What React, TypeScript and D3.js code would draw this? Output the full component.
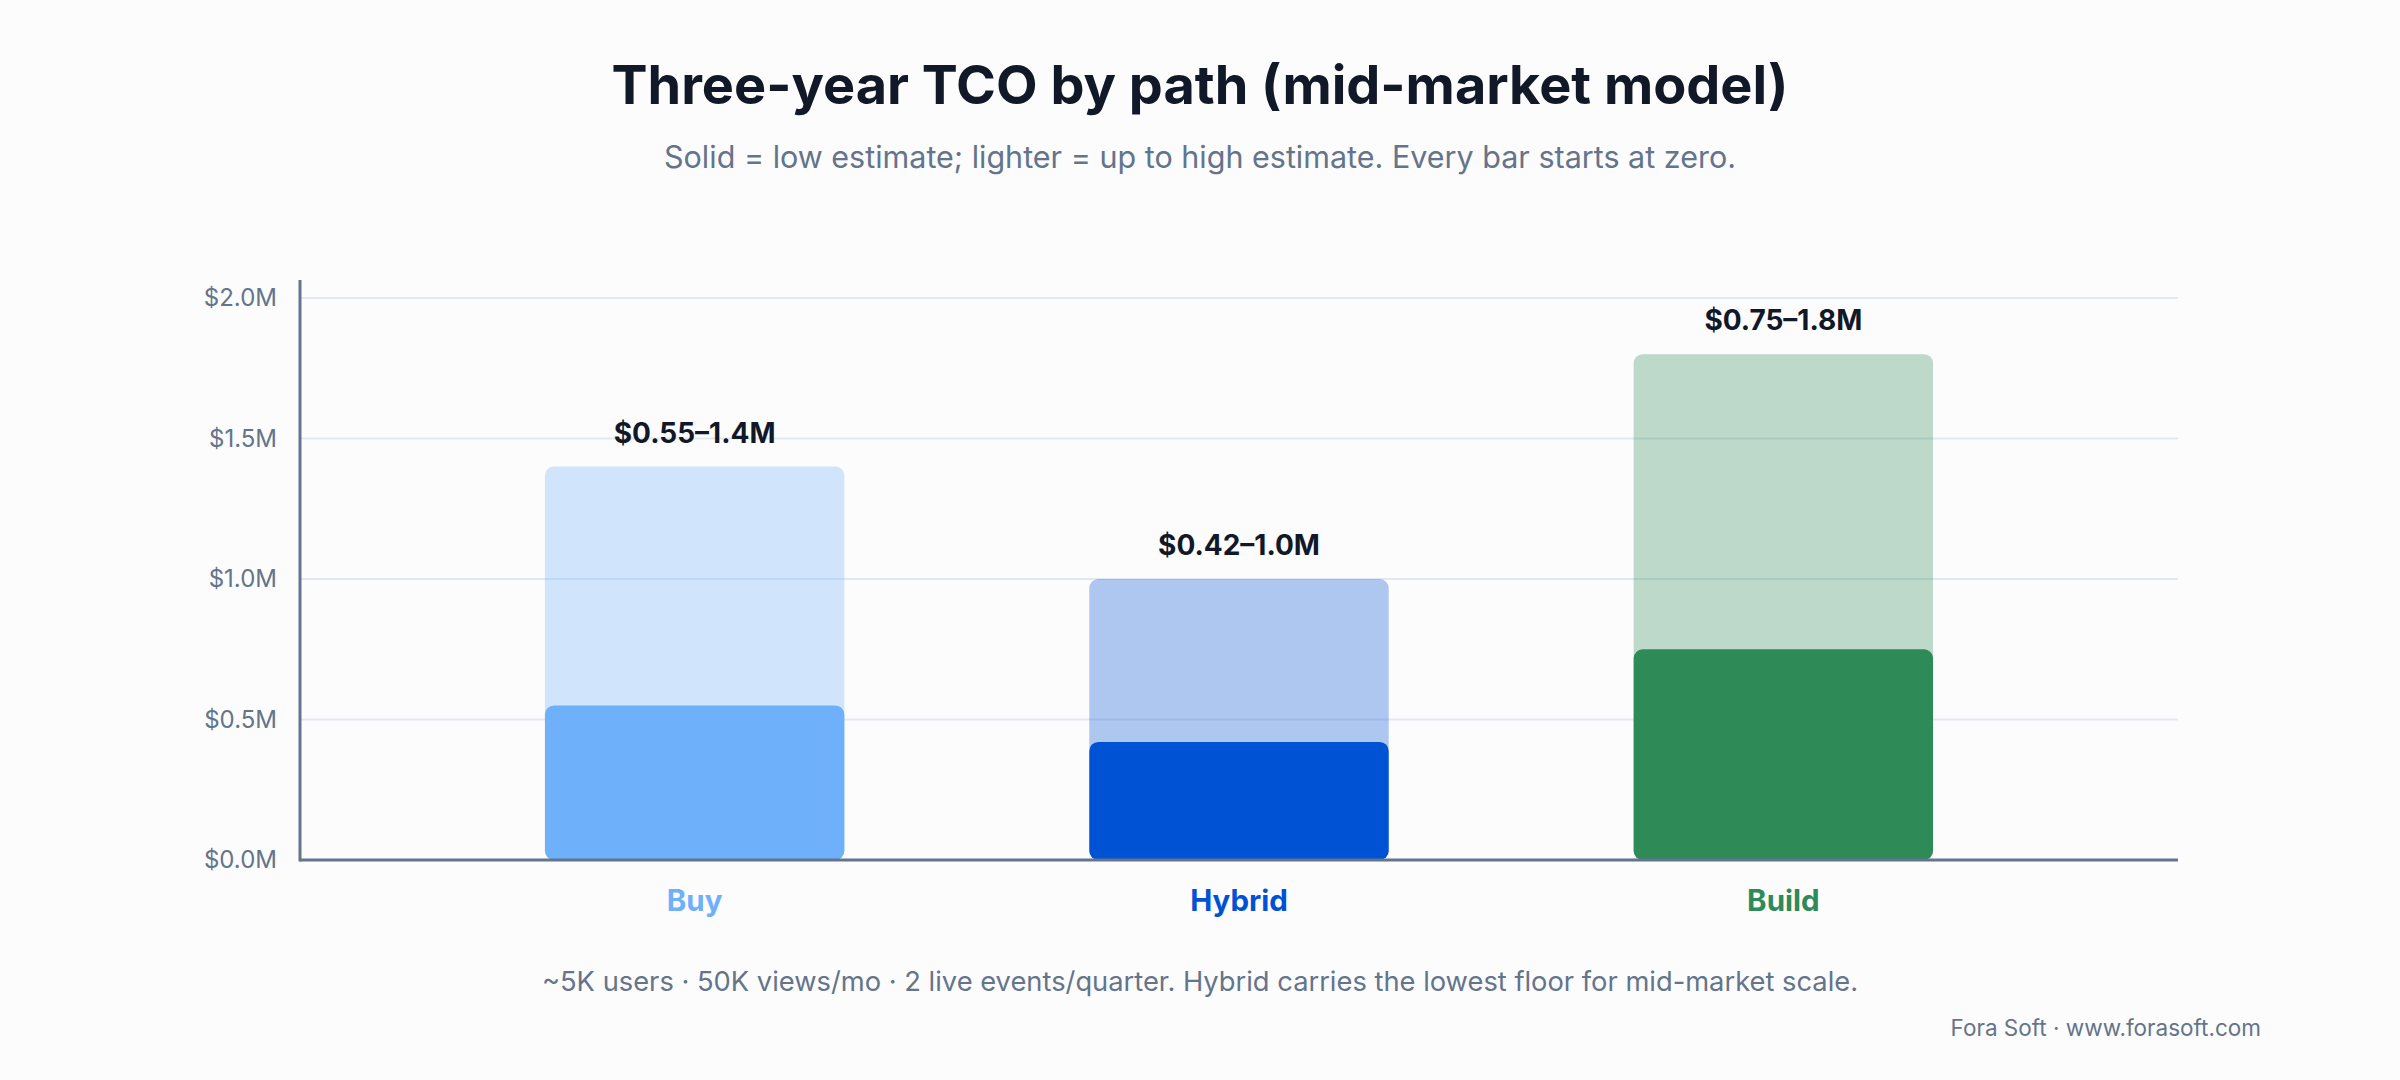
import * as d3 from "d3";
import React from "react";

const categories = ["Buy", "Hybrid", "Build"];
const lowEstimate = [0.55, 0.42, 0.75];
const highEstimate = [1.4, 1.0, 1.8];
const rangeLabels = ["$0.55–1.4M", "$0.42–1.0M", "$0.75–1.8M"];
const yTicks = [0, 0.5, 1.0, 1.5, 2.0];
const colors = ["#6fb0fb", "#0052d4", "#2e8b57"];

const W = 2400;
const H = 1080;
const FONT = "Inter, 'Noto Sans', sans-serif";

export default function App() {
	const svgRef = React.useRef<SVGSVGElement>(null);

	React.useEffect(() => {
		document.body.style.margin = "0";
		if (!svgRef.current) return;

		const margins = { top: 280, right: 222, bottom: 220, left: 300 };
		const svg = d3.select(svgRef.current);
		svg.selectAll("*").remove();

		svg.append("rect").attr("width", W).attr("height", H).attr("fill", "#fcfcfd");

		const x = d3
			.scaleBand<string>()
			.domain(categories)
			.range([margins.left, W - margins.right])
			.paddingInner(0.45)
			.paddingOuter(0.45);
		const y = d3
			.scaleLinear()
			.domain([0, 2])
			.range([H - margins.bottom, margins.top + 18]);

		// Title block
		svg
			.append("text")
			.attr("x", W / 2)
			.attr("y", 104)
			.attr("text-anchor", "middle")
			.attr("font-family", FONT)
			.attr("font-weight", 700)
			.attr("font-size", 54)
			.attr("fill", "#111827")
			.text("Three-year TCO by path (mid-market model)");

		svg
			.append("text")
			.attr("x", W / 2)
			.attr("y", 168)
			.attr("text-anchor", "middle")
			.attr("font-family", FONT)
			.attr("font-size", 30.5)
			.attr("fill", "#64748b")
			.text("Solid = low estimate; lighter = up to high estimate. Every bar starts at zero.");

		// Gridlines + y labels
		const grid = svg.append("g");
		yTicks.forEach((t) => {
			if (t > 0) {
				grid
					.append("line")
					.attr("x1", margins.left)
					.attr("x2", W - margins.right)
					.attr("y1", y(t))
					.attr("y2", y(t))
					.attr("stroke", "#e2e8f0")
					.attr("stroke-width", 2);
			}
			grid
				.append("text")
				.attr("x", margins.left - 23)
				.attr("y", y(t))
				.attr("dy", "0.35em")
				.attr("text-anchor", "end")
				.attr("font-family", FONT)
				.attr("font-size", 24)
				.attr("fill", "#64748b")
				.text(`$${d3.format(".1f")(t)}M`);
		});

		// Bars: light = high estimate, solid = low estimate, both from zero
		const bars = svg.append("g");
		categories.forEach((c, i) => {
			const bx = x(c)!;
			const bw = x.bandwidth();
			bars
				.append("rect")
				.attr("x", bx)
				.attr("y", y(highEstimate[i]))
				.attr("width", bw)
				.attr("height", y(0) - y(highEstimate[i]))
				.attr("rx", 9)
				.attr("fill", colors[i])
				.attr("fill-opacity", 0.31);
			bars
				.append("rect")
				.attr("x", bx)
				.attr("y", y(lowEstimate[i]))
				.attr("width", bw)
				.attr("height", y(0) - y(lowEstimate[i]))
				.attr("rx", 9)
				.attr("fill", colors[i]);

			bars
				.append("text")
				.attr("x", bx + bw / 2)
				.attr("y", y(highEstimate[i]) - 24)
				.attr("text-anchor", "middle")
				.attr("font-family", FONT)
				.attr("font-weight", 700)
				.attr("font-size", 28)
				.attr("fill", "#111827")
				.text(rangeLabels[i]);

			bars
				.append("text")
				.attr("x", bx + bw / 2)
				.attr("y", y(0) + 51)
				.attr("text-anchor", "middle")
				.attr("font-family", FONT)
				.attr("font-weight", 700)
				.attr("font-size", 29.5)
				.attr("fill", colors[i])
				.text(c);
		});

		// Axis lines
		svg
			.append("line")
			.attr("x1", margins.left)
			.attr("x2", margins.left)
			.attr("y1", margins.top)
			.attr("y2", y(0) + 1.5)
			.attr("stroke", "#64748b")
			.attr("stroke-width", 3);
		svg
			.append("line")
			.attr("x1", margins.left)
			.attr("x2", W - margins.right)
			.attr("y1", y(0))
			.attr("y2", y(0))
			.attr("stroke", "#64748b")
			.attr("stroke-width", 3);

		// Footer
		svg
			.append("text")
			.attr("x", W / 2)
			.attr("y", 991)
			.attr("text-anchor", "middle")
			.attr("font-family", FONT)
			.attr("font-size", 27.3)
			.attr("fill", "#64748b")
			.text(
				"~5K users · 50K views/mo · 2 live events/quarter. Hybrid carries the lowest floor for mid-market scale.",
			);
		svg
			.append("text")
			.attr("x", 2261)
			.attr("y", 1036)
			.attr("text-anchor", "end")
			.attr("font-family", FONT)
			.attr("font-size", 22.5)
			.attr("fill", "#64748b")
			.text("Fora Soft · www.forasoft.com");
	}, []);

	return <svg ref={svgRef} width={W} height={H} style={{ display: "block" }} />;
}
